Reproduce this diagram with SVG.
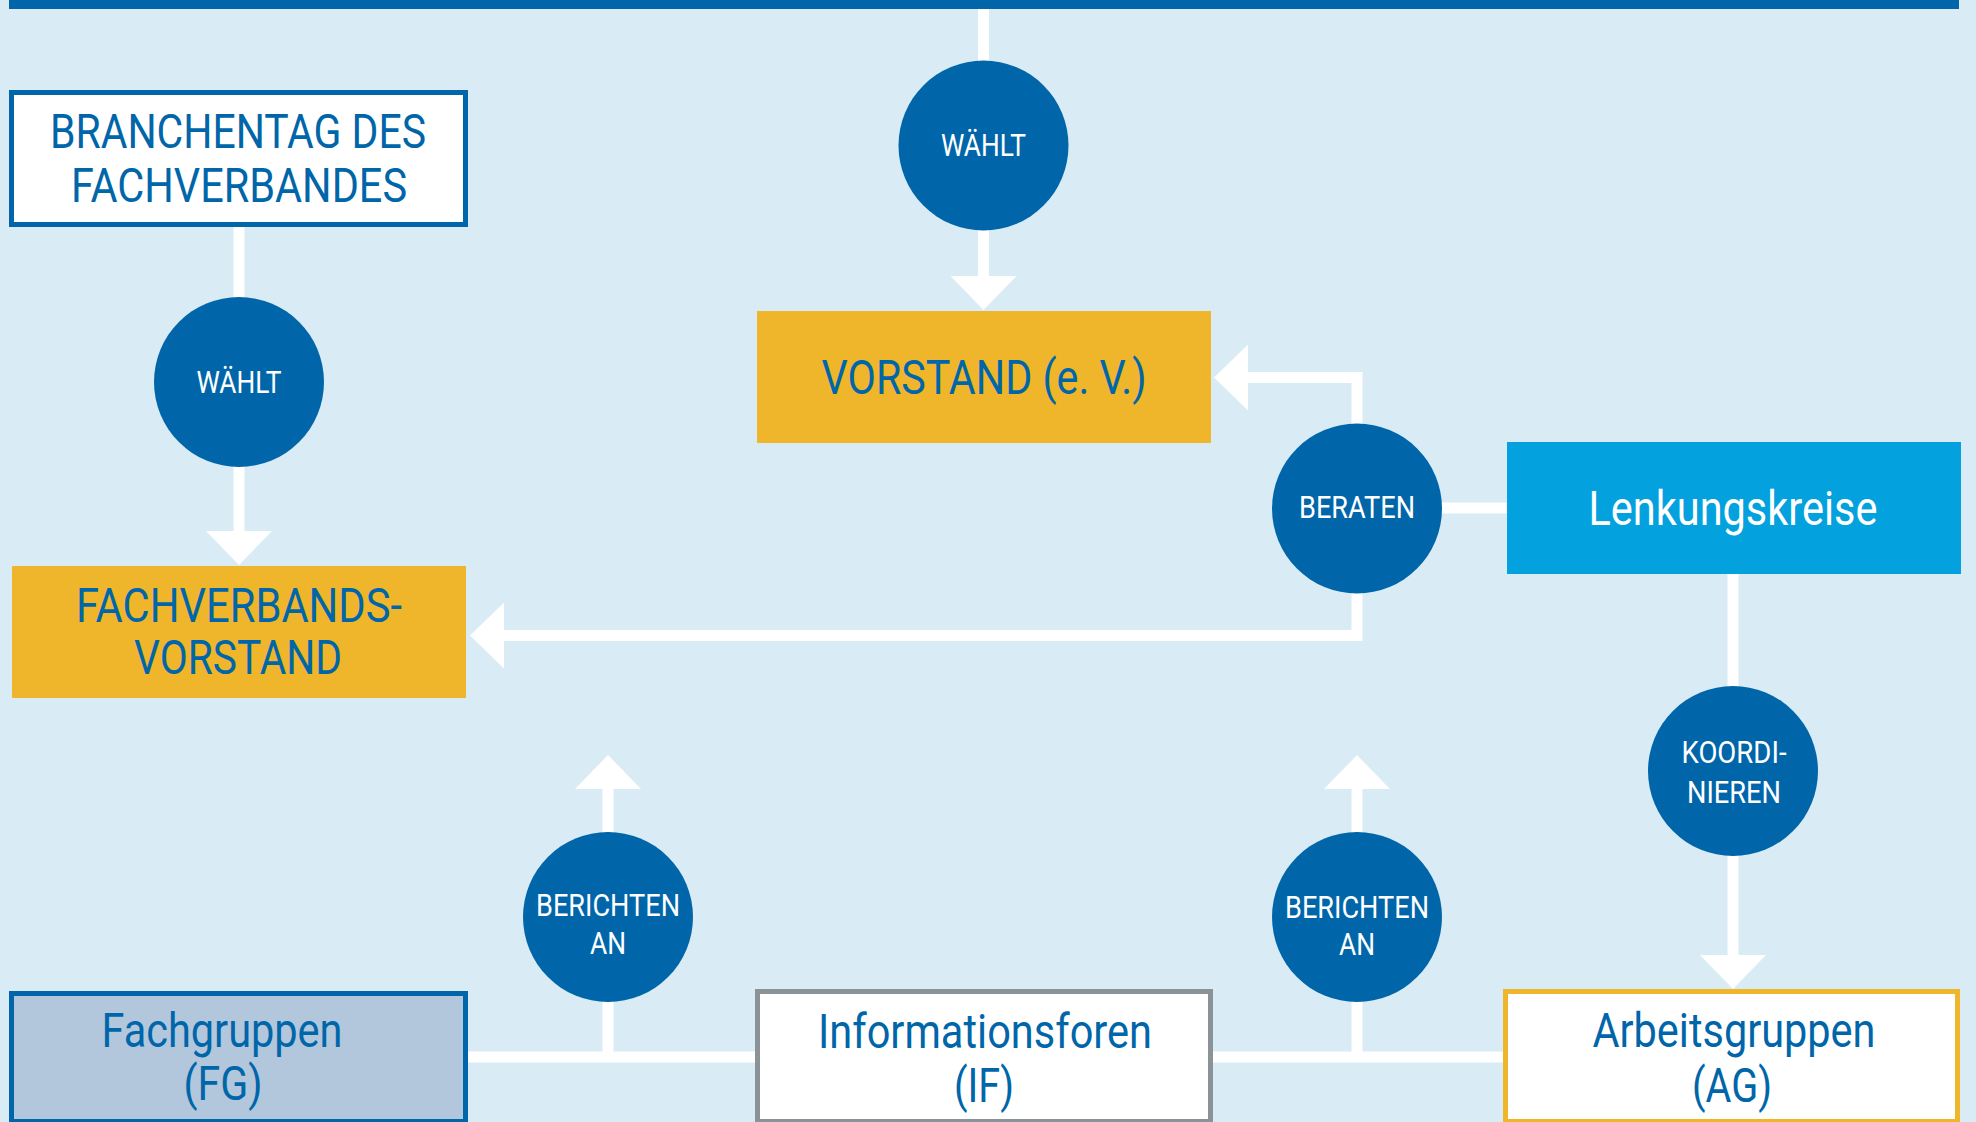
<svg xmlns="http://www.w3.org/2000/svg" width="1976" height="1122" viewBox="0 0 1976 1122">
  <style>
    .bg { fill: #D9ECF5; }
    .bar { fill: #0066A9; }
    .conn { fill: none; stroke: #FFFFFF; stroke-width: 11; stroke-linecap: butt; stroke-linejoin: miter; }
    .circ { fill: #0066A9; }
    .ctext { font-family: Roboto, "Liberation Sans", sans-serif; font-size: 32px; fill: #FFFFFF; text-anchor: middle; }
    .btext { font-family: Roboto, "Liberation Sans", sans-serif; font-size: 48px; fill: #0066A9; text-anchor: middle; }
    .wtext { fill: #FFFFFF; }
    .gold { fill: #F0B62B; }
    .white-blue { fill: #FFFFFF; stroke: #0066A9; stroke-width: 5; }
    .fg { fill: #B3C7DC; stroke: #0066A9; stroke-width: 5; }
    .if { fill: #FFFFFF; stroke: #8B9399; stroke-width: 5; }
    .ag { fill: #FFFFFF; stroke: #F0B62B; stroke-width: 5; }
    .lk { fill: #03A1DD; }
  </style>
  <defs>
    <marker id="arrow" viewBox="0 0 34 66" refX="1" refY="33" markerWidth="34" markerHeight="66" markerUnits="userSpaceOnUse" orient="auto">
      <path d="M0,0 L34,33 L0,66 Z" fill="#FFFFFF"/>
    </marker>
  </defs>

  <rect class="bg" x="0" y="0" width="1976" height="1122"/>
  <rect class="bar" x="9" y="0" width="1950" height="9"/>

  <g id="connectors">
    <path class="conn" d="M983.5,9 V62"/>
    <path class="conn" d="M983.5,229 V277" marker-end="url(#arrow)"/>
    <path class="conn" d="M239,226 V298"/>
    <path class="conn" d="M239,466 V532" marker-end="url(#arrow)"/>
    <path class="conn" d="M1357,425 V377.5 H1247" marker-end="url(#arrow)"/>
    <path class="conn" d="M1357,592 V635.5 H503" marker-end="url(#arrow)"/>
    <path class="conn" d="M1440,508 H1508"/>
    <path class="conn" d="M1733,573 V687"/>
    <path class="conn" d="M1733,855 V956" marker-end="url(#arrow)"/>
    <path class="conn" d="M467,1057 H756"/>
    <path class="conn" d="M1212,1057 H1504"/>
    <path class="conn" d="M608,1057 V1001"/>
    <path class="conn" d="M608,833 V788" marker-end="url(#arrow)"/>
    <path class="conn" d="M1357,1057 V1001"/>
    <path class="conn" d="M1357,833 V788" marker-end="url(#arrow)"/>
  </g>

  <g id="branchentag">
    <rect class="white-blue" x="11.5" y="92.5" width="454" height="132"/>
    <text class="btext" x="238" y="148" textLength="376" lengthAdjust="spacingAndGlyphs">BRANCHENTAG DES</text>
    <text class="btext" x="239" y="202" textLength="336" lengthAdjust="spacingAndGlyphs">FACHVERBANDES</text>
  </g>

  <g id="waehlt-top">
    <circle class="circ" cx="983.5" cy="145.5" r="85"/>
    <text class="ctext" x="983.5" y="156" textLength="85" lengthAdjust="spacingAndGlyphs">WÄHLT</text>
  </g>

  <g id="waehlt-left">
    <circle class="circ" cx="239" cy="382" r="85"/>
    <text class="ctext" x="239" y="393" textLength="85" lengthAdjust="spacingAndGlyphs">WÄHLT</text>
  </g>

  <g id="vorstand">
    <rect class="gold" x="757" y="311" width="454" height="132"/>
    <text class="btext" x="984" y="394" textLength="325" lengthAdjust="spacingAndGlyphs">VORSTAND (e. V.)</text>
  </g>

  <g id="fachverbandsvorstand">
    <rect class="gold" x="12" y="566" width="454" height="132"/>
    <text class="btext" x="239" y="622" textLength="326" lengthAdjust="spacingAndGlyphs">FACHVERBANDS-</text>
    <text class="btext" x="238" y="674" textLength="208" lengthAdjust="spacingAndGlyphs">VORSTAND</text>
  </g>

  <g id="beraten">
    <circle class="circ" cx="1357" cy="508.5" r="85"/>
    <text class="ctext" x="1357" y="518" textLength="116" lengthAdjust="spacingAndGlyphs">BERATEN</text>
  </g>

  <g id="lenkungskreise">
    <rect class="lk" x="1507" y="442" width="454" height="132"/>
    <text class="btext wtext" x="1733" y="525" textLength="289" lengthAdjust="spacingAndGlyphs">Lenkungskreise</text>
  </g>

  <g id="koordinieren">
    <circle class="circ" cx="1733" cy="771" r="85"/>
    <text class="ctext" x="1734" y="763" textLength="105" lengthAdjust="spacingAndGlyphs">KOORDI-</text>
    <text class="ctext" x="1734" y="803" textLength="94" lengthAdjust="spacingAndGlyphs">NIEREN</text>
  </g>

  <g id="berichten-left">
    <circle class="circ" cx="608" cy="917" r="85"/>
    <text class="ctext" x="608" y="916" textLength="144" lengthAdjust="spacingAndGlyphs">BERICHTEN</text>
    <text class="ctext" x="608" y="954" textLength="36" lengthAdjust="spacingAndGlyphs">AN</text>
  </g>

  <g id="berichten-right">
    <circle class="circ" cx="1357" cy="917" r="85"/>
    <text class="ctext" x="1357" y="918" textLength="144" lengthAdjust="spacingAndGlyphs">BERICHTEN</text>
    <text class="ctext" x="1357" y="955" textLength="36" lengthAdjust="spacingAndGlyphs">AN</text>
  </g>

  <g id="fachgruppen">
    <rect class="fg" x="11.5" y="993.5" width="454" height="128"/>
    <text class="btext" x="222" y="1047" textLength="241" lengthAdjust="spacingAndGlyphs">Fachgruppen</text>
    <text class="btext" x="223" y="1100" textLength="79" lengthAdjust="spacingAndGlyphs">(FG)</text>
  </g>

  <g id="informationsforen">
    <rect class="if" x="757.5" y="991.5" width="453" height="130"/>
    <text class="btext" x="985" y="1048" textLength="334" lengthAdjust="spacingAndGlyphs">Informationsforen</text>
    <text class="btext" x="984" y="1102" textLength="60" lengthAdjust="spacingAndGlyphs">(IF)</text>
  </g>

  <g id="arbeitsgruppen">
    <rect class="ag" x="1505.5" y="991.5" width="452" height="130"/>
    <text class="btext" x="1734" y="1047" textLength="283" lengthAdjust="spacingAndGlyphs">Arbeitsgruppen</text>
    <text class="btext" x="1732" y="1102" textLength="80" lengthAdjust="spacingAndGlyphs">(AG)</text>
  </g>
</svg>
